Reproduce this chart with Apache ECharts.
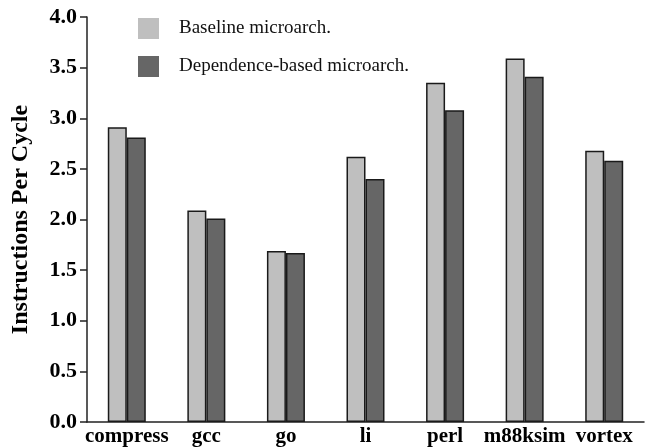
<!DOCTYPE html>
<html>
<head>
<meta charset="utf-8">
<script src="https://cdn.jsdelivr.net/npm/echarts@6/dist/echarts.min.js"></script>
<style>
  html, body { margin: 0; padding: 0; background: #fff; }
  #main { width: 648px; height: 448px; }
</style>
</head>
<body>
<div id="main"></div>
<script>
// benchmarks and IPC values
var benchmarks = ['compress', 'gcc', 'go', 'li', 'perl', 'm88ksim', 'vortex'];
var baseline = [2.91, 2.09, 1.69, 2.62, 3.35, 3.59, 2.68];
var dependence = [2.81, 2.01, 1.67, 2.40, 3.08, 3.41, 2.58];
var yTicks = ['0.0', '0.5', '1.0', '1.5', '2.0', '2.5', '3.0', '3.5', '4.0'];

var serif = '"Liberation Serif", "DejaVu Serif", serif';
var chart = echarts.init(document.getElementById('main'));

var option = {
  backgroundColor: '#fff',
  animation: false,
  grid: { left: 87, right: 4, top: 17, bottom: 26, outerBoundsMode: 'none', containLabel: false },
  legend: {
    orient: 'vertical',
    left: 133,
    top: 13,
    itemWidth: 21,
    itemHeight: 21,
    itemGap: 17,
    icon: 'rect',
    itemStyle: { borderWidth: 0 },
    textStyle: { fontFamily: serif, fontSize: 19, lineHeight: 21, color: '#111', padding: [0, 0, 0, 15] },
    data: ['Baseline microarch.', 'Dependence-based microarch.']
  },
  xAxis: {
    type: 'category',
    data: benchmarks,
    axisLine: { lineStyle: { color: '#222', width: 1.5 } },
    axisTick: { show: false },
    axisLabel: {
      interval: 0,
      fontFamily: serif, fontSize: 21, fontWeight: 'bold', color: '#000', margin: 4
    }
  },
  yAxis: {
    type: 'value',
    min: 0,
    max: 4,
    interval: 0.5,
    name: 'Instructions Per Cycle',
    nameLocation: 'middle',
    nameGap: 54,
    nameTextStyle: { fontFamily: serif, fontSize: 24, fontWeight: 'bold', color: '#000' },
    splitLine: { show: false },
    axisLine: { show: true, lineStyle: { color: '#222', width: 1.5 } },
    axisTick: { show: true, length: 7, lineStyle: { color: '#222', width: 1.5 } },
    axisLabel: {
      fontFamily: serif, fontSize: 22, fontWeight: 'bold', color: '#000', margin: 10,
      verticalAlign: 'middle', lineHeight: 22, padding: [0, 0, 8, 0],
      formatter: function (v) { return yTicks[Math.round(v * 2)]; }
    }
  },
  series: [
    {
      name: 'Baseline microarch.',
      type: 'bar',
      data: baseline,
      barWidth: 19,
      barGap: '0%',
      itemStyle: { color: '#bfbfbf', borderColor: '#1a1a1a', borderWidth: 1.5 }
    },
    {
      name: 'Dependence-based microarch.',
      type: 'bar',
      data: dependence,
      barWidth: 19,
      barGap: '0%',
      itemStyle: { color: '#666666', borderColor: '#1a1a1a', borderWidth: 1.5 }
    }
  ]
};

chart.setOption(option);
</script>
</body>
</html>
